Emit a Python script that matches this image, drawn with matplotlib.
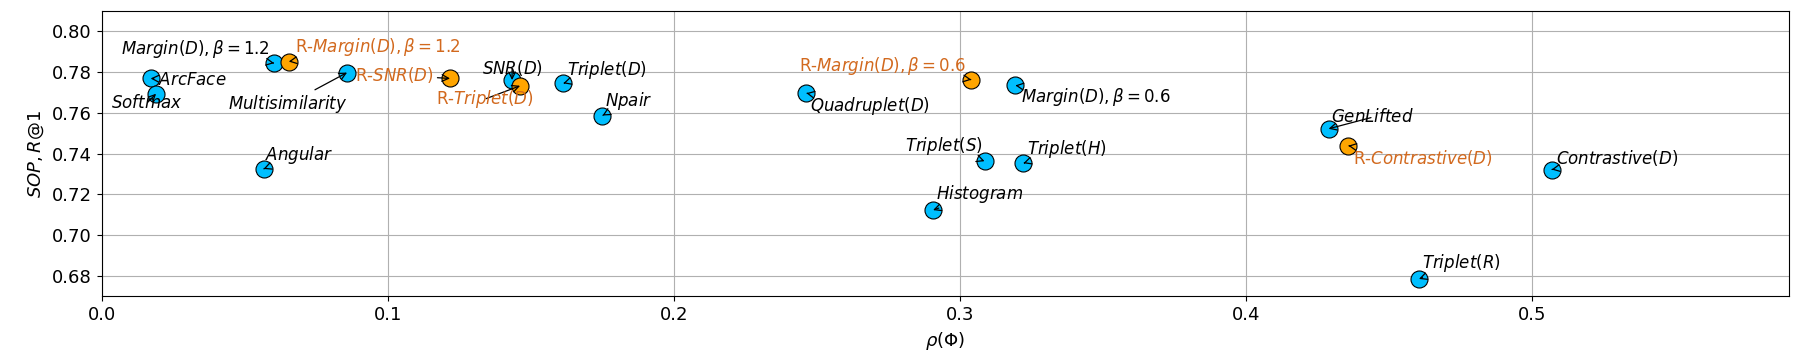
import matplotlib.pyplot as plt

# Metode, rho(Phi) in SOP R@1
labels = [r'$ArcFace$', r'$Softmax$', r'$Margin(D), \beta=1.2$', r'$Multisimilarity$',
          r'$Angular$', r'$SNR(D)$', r'$Triplet(D)$', r'$Npair$', r'$Quadruplet(D)$',
          r'$Margin(D), \beta=0.6$', r'$Triplet(S)$', r'$Triplet(H)$', r'$Histogram$',
          r'$GenLifted$', r'$Contrastive(D)$', r'$Triplet(R)$']
rho = [0.0171, 0.0190, 0.0603, 0.0858, 0.0566, 0.1435, 0.1614, 0.1751, 0.2464,
       0.3195, 0.3087, 0.3223, 0.2907, 0.4290, 0.5070, 0.4606]
recall = [0.7769, 0.7694, 0.7844, 0.7798, 0.7325, 0.7761, 0.7745, 0.7587, 0.7697,
          0.7735, 0.7363, 0.7353, 0.7123, 0.7522, 0.7322, 0.6785]

# regularizirane metode (oranzne)
r_labels = [r'R-$Margin(D), \beta=1.2$', r'R-$SNR(D)$', r'R-$Triplet(D)$',
            r'R-$Margin(D), \beta=0.6$', r'R-$Contrastive(D)$']
r_rho = [0.0654, 0.1218, 0.1463, 0.3041, 0.4359]
r_recall = [0.7852, 0.7769, 0.7733, 0.7763, 0.7439]

# odmiki napisov (v tockah)
offsets = [(30, -1), (-6.5, -6.7), (-57, 10), (-42.5, -22.8), (25.5, 10), (0, 8.6),
           (31.5, 9.6), (19, 10.6), (45.7, -9.3), (58.2, -8.4), (-29.4, 10.9),
           (31.2, 10.2), (33.3, 11.7), (31.5, 8.3), (47.2, 8.6), (30.7, 11.2)]
r_offsets = [(64.3, 10.3), (-40.3, 2.4), (-25.4, -9.6), (-63.8, 9.8), (54, -8.6)]

fig = plt.figure(figsize=(18, 3.6), dpi=100)
ax = fig.add_axes([0.0565, 0.177, 0.9374, 0.7924])

ax.scatter(rho, recall, s=150, c='#00BFFF', edgecolors='k', linewidths=0.8, zorder=2.5)
ax.scatter(r_rho, r_recall, s=150, c='#FFA500', edgecolors='k', linewidths=0.8, zorder=2.5)

arrow = dict(arrowstyle='->', color='k', lw=0.9, shrinkA=1, shrinkB=0)
for lab, x, y, off in zip(labels, rho, recall, offsets):
    ax.annotate(lab, (x, y), xytext=off, textcoords='offset points',
                ha='center', va='center', fontsize=12, arrowprops=arrow)
for lab, x, y, off in zip(r_labels, r_rho, r_recall, r_offsets):
    ax.annotate(lab, (x, y), xytext=off, textcoords='offset points',
                ha='center', va='center', fontsize=12, color='chocolate',
                arrowprops=arrow)

ax.set_xlim(0, 0.59)
ax.set_ylim(0.67, 0.81)
ax.set_yticks([0.68, 0.70, 0.72, 0.74, 0.76, 0.78, 0.80])
ax.grid(True)
ax.tick_params(labelsize=13)
ax.set_xlabel(r'$\rho(\Phi)$', fontsize=13)
ax.set_ylabel(r'$SOP, R@1$', fontsize=13)

plt.savefig('out.png')
